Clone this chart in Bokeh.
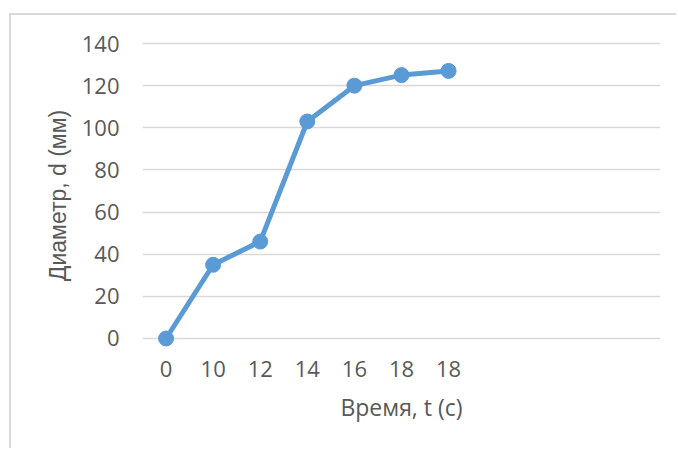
from bokeh.plotting import figure
from bokeh.models import Range1d, FixedTicker
from bokeh.embed import file_html
from bokeh.resources import INLINE

# Measurements: time labels (categories) and diameter values
time_labels = ["0", "10", "12", "14", "16", "18", "18"]
diameter_mm = [0, 35, 46, 103, 120, 125, 127]
n_slots = 11          # category slots on the horizontal axis
y_ticks = [0, 20, 40, 60, 80, 100, 120, 140]

x_pos = list(range(len(time_labels)))

TEXT = "#595959"
GRID = "#d9d9d9"
BLUE = "#5B9BD5"
FONT = "Open Sans"

# the chart sits inside a light frame offset from the page corner
OFF_X, OFF_Y = 11, 15

p = figure(
    width=678 - OFF_X, height=450 - OFF_Y,
    output_backend="svg", toolbar_location=None,
    x_range=Range1d(-0.5, n_slots - 0.5),
    y_range=Range1d(-8.07, 143.8),
    min_border_left=142 - OFF_X, min_border_right=18,
    min_border_top=35 - OFF_Y, min_border_bottom=95,
    styles={
        "margin-left": "9px",
        "margin-top": "13px",
        "border-left": "2px solid #d9d9d9",
        "border-top": "2px solid #d9d9d9",
    },
)
p.outline_line_color = None
p.background_fill_color = "white"
p.border_fill_color = "white"

p.line(x_pos, diameter_mm, line_color=BLUE, line_width=5)
p.scatter(x_pos, diameter_mm, size=15, fill_color=BLUE, line_color=BLUE)

# x axis: category slots labelled with time values
p.xaxis.ticker = FixedTicker(ticks=x_pos)
p.xaxis.major_label_overrides = {i: lab for i, lab in zip(x_pos, time_labels)}
p.xaxis.axis_label = "Время, t (c)"
p.xgrid.visible = False

# y axis
p.yaxis.ticker = FixedTicker(ticks=y_ticks)
p.yaxis.axis_label = "Диаметр, d (мм)"
p.ygrid.ticker = FixedTicker(ticks=y_ticks)
p.ygrid.grid_line_color = GRID
p.ygrid.grid_line_width = 1.5

for ax in (p.xaxis, p.yaxis):
    ax.axis_line_color = None
    ax.major_tick_line_color = None
    ax.minor_tick_line_color = None
    ax.major_tick_out = 0
    ax.major_tick_in = 0
    ax.major_label_text_font = FONT
    ax.major_label_text_font_size = "22px"
    ax.major_label_text_color = TEXT
    ax.axis_label_text_color = TEXT
    ax.axis_label_text_font_style = "normal"

p.xaxis.axis_label_text_font = FONT
p.xaxis.axis_label_text_font_size = "23px"
p.yaxis.axis_label_text_font = "Liberation Sans"
p.yaxis.axis_label_text_font_size = "23px"

p.xaxis.major_label_standoff = 5
p.xaxis.axis_label_standoff = 11
p.yaxis.major_label_standoff = 23
p.yaxis.axis_label_standoff = 8

open("out.html", "w").write(file_html(p, INLINE))
